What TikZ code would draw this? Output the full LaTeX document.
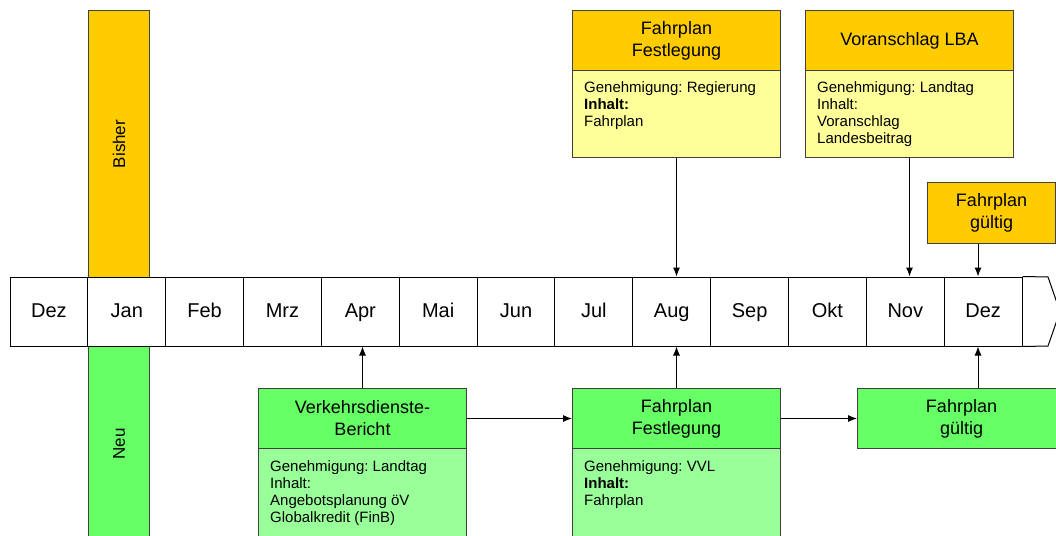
\documentclass[tikz,border=0pt]{standalone}
\usepackage{fontspec}
\setmainfont{Liberation Sans}
\usetikzlibrary{arrows.meta}
\definecolor{orng}{HTML}{FFCC00}
\definecolor{ltyel}{HTML}{FFFF99}
\definecolor{grn}{HTML}{66FF66}
\definecolor{ltgrn}{HTML}{99FF99}
\frenchspacing
\begin{document}
\begin{tikzpicture}[x=1pt,y=-1pt,
  cell/.style={draw, line width=1pt, minimum width=77.85, minimum height=69, inner sep=0, text height=1.5em, text depth=0.25em, font=\fontsize{20}{22}\selectfont},
  bar/.style={draw=black!75, line width=1pt, minimum width=61, inner sep=0, anchor=north west},
  hdr/.style={draw=black!75, line width=1pt, minimum width=208, minimum height=60, anchor=north west, inner sep=0, align=center, font=\fontsize{18}{22}\selectfont},
  body/.style={draw=black!75, line width=1pt, minimum width=208, minimum height=87, anchor=north west, inner sep=0},
  txt/.style={anchor=north west, inner sep=0, align=left, font=\fontsize{15}{17}\selectfont},
  arr/.style={-{Latex[length=9pt,width=7pt]}, line width=1pt}]
\clip (0,0) rectangle (1056,535);
\fill[white] (0,0) rectangle (1056,535);
% side bars
\node[bar, fill=orng, minimum height=267] (bisher) at (88,10) {};
\node[rotate=90, font=\fontsize{17}{19}\selectfont] at (bisher.center) {Bisher};
\node[bar, fill=grn, minimum height=195] (neu) at (88,346) {};
\node[rotate=90, font=\fontsize{17}{19}\selectfont] at (neu.center) {Neu};
% timeline
\foreach \m [count=\i from 0] in {Dez,Jan,Feb,Mrz,Apr,Mai,Jun,Jul,Aug,Sep,Okt,Nov,Dez}
  \node[cell] (m\i) at ({10+77.85*(\i+0.5)},311.5) {\m};
\draw[line width=1pt] (m12.north east) -- (1048,277) -- (1060,311.5) -- (1048,346) -- (m12.south east);
% top boxes
\node[hdr, fill=orng] (fpt) at (572,10) {Fahrplan\\Festlegung};
\node[body, fill=ltyel] (fptb) at (572,70) {};
\node[txt] at ([shift={(12,11)}]fptb.north west) {Genehmigung: Regierung\\\textbf{Inhalt:}\\Fahrplan};
\node[hdr, fill=orng] (vla) at (805,10) {Voranschlag LBA};
\node[body, fill=ltyel] (vlab) at (805,70) {};
\node[txt] at ([shift={(12,11)}]vlab.north west) {Genehmigung: Landtag\\Inhalt:\\Voranschlag\\Landesbeitrag};
\node[hdr, fill=orng, minimum width=128, minimum height=61] (fgt) at (927,182) {Fahrplan\\gültig};
% bottom boxes
\node[hdr, fill=grn] (vdb) at (258,388) {Verkehrsdienste-\\Bericht};
\node[body, fill=ltgrn, minimum height=92] (vdbb) at (258,448) {};
\node[txt] at ([shift={(12,12)}]vdbb.north west) {Genehmigung: Landtag\\Inhalt:\\Angebotsplanung öV\\Globalkredit (FinB)};
\node[hdr, fill=grn] (fpg) at (572,388) {Fahrplan\\Festlegung};
\node[body, fill=ltgrn, minimum height=92] (fpgb) at (572,448) {};
\node[txt] at ([shift={(12,12)}]fpgb.north west) {Genehmigung: VVL\\\textbf{Inhalt:}\\Fahrplan};
\node[hdr, fill=grn] (fgg) at (857,388) {Fahrplan\\gültig};
% connectors
\coordinate (a) at (978,0);
\draw[arr] (fptb.south) -- (fptb.south |- m8.north);
\draw[arr] (vlab.south) -- (vlab.south |- m11.north);
\draw[arr] (fgt.south -| a) -- (m12.north -| a);
\draw[arr] (vdb.north) -- (vdb.north |- m4.south);
\draw[arr] (fpg.north) -- (fpg.north |- m8.south);
\draw[arr] (fgg.north -| a) -- (m12.south -| a);
\draw[arr] (vdb.east) -- (fpg.west);
\draw[arr] (fpg.east) -- (fgg.west);
\end{tikzpicture}
\end{document}
